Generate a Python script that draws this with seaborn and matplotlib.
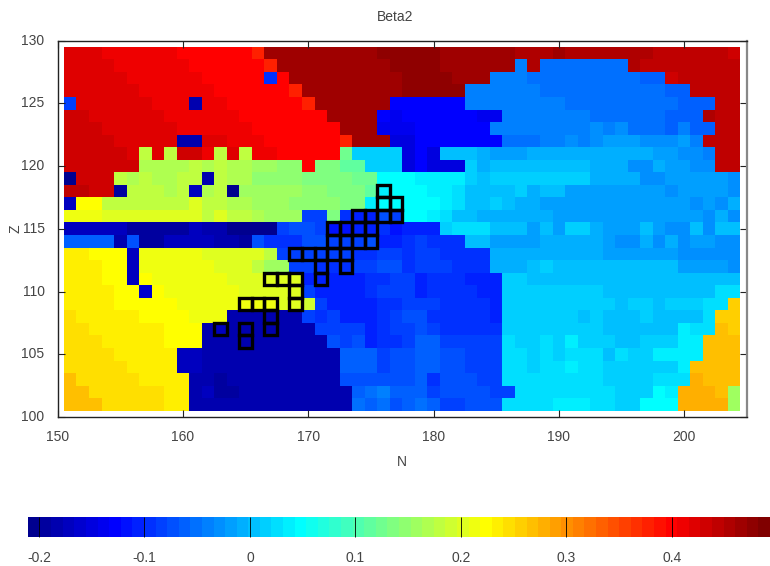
#!/usr/bin/env python

import numpy as np
import pandas as pd
import matplotlib
matplotlib.use('Agg')
import matplotlib.pyplot as plt
from matplotlib.colors import ListedColormap
from matplotlib.patches import Rectangle
import seaborn as sns

n_values = list(range(151, 205))
z_values = list(range(129, 100, -1))

z129 = [(57,3),(56,6),(55,6),(53,1),(61,9),(62,5),(61,6),(60,3),(61,1),(60,7),(59,6),(58,1)]
z128 = [(57,4),(56,6),(55,6),(53,1),(61,9),(62,4),(61,6),(15,1),(60,1),(14,7),(60,1),(59,8)]
z127 = [(57,5),(56,6),(55,5),(10,1),(55,1),(61,9),(62,4),(61,3),(15,3),(14,9),(13,2),(58,1),(59,5)]
z126 = [(57,6),(56,6),(55,6),(53,1),(61,8),(62,5),(15,6),(14,10),(13,2),(59,4)]
z125 = [(11,1),(57,6),(56,3),(2,1),(56,2),(55,6),(53,1),(61,6),(7,6),(15,8),(14,9),(13,3),(59,2)]
z124 = [(58,2),(57,6),(56,6),(55,7),(61,4),(7,1),(6,1),(7,6),(6,2),(15,7),(14,6),(13,3),(60,1),(59,2)]
z123 = [(58,3),(57,6),(56,6),(55,7),(61,3),(6,3),(7,6),(15,8),(16,1),(15,1),(16,1),(14,3),(13,1),(15,1),(13,2),(59,2)]
z122 = [(58,4),(57,5),(2,2),(57,2),(56,3),(55,6),(53,1),(61,3),(5,2),(7,7),(14,3),(15,2),(16,1),(15,1),(16,1),(17,3),(16,3),(17,1),(15,1),(59,3)]
z121 = [(58,5),(57,1),(35,1),(57,1),(35,1),(58,2),(56,1),(35,1),(57,1),(35,1),(56,2),(55,5),(30,1),(20,4),(5,1),(7,1),(5,1),(19,3),(18,1),(17,3),(18,10),(17,2),(16,2),(15,1),(59,2)]
z120 = [(58,6),(34,4),(35,1),(34,1),(35,1),(34,2),(33,2),(32,2),(55,1),(31,2),(29,2),(20,3),(5,1),(7,1),(5,3),(20,1),(18,1),(19,8),(18,3),(16,2),(18,1),(17,2),(16,2),(59,2)]
z119 = [(0,1),(58,3),(35,1),(34,1),(35,1),(34,2),(35,2),(2,1),(35,1),(34,2),(32,4),(31,4),(30,2),(23,3),(22,4),(20,1),(19,1),(20,8),(18,4),(16,2),(17,5),(16,1)]
z118 = [(59,2),(58,2),(1,1),(35,3),(34,1),(35,1),(3,1),(34,1),(35,1),(0,1),(33,5),(32,2),(31,3),(29,1),(22,1),(23,3),(22,2),(21,1),(19,4),(20,1),(18,1),(19,2),(17,8),(16,1),(17,4),(16,1)]
z117 = [(3,1),(39,2),(35,7),(37,1),(35,2),(34,2),(33,3),(32,4),(31,2),(22,1),(23,5),(22,1),(21,1),(19,2),(20,1),(19,1),(18,2),(17,12),(16,1),(17,1),(16,1),(18,1)]
z116 = [(38,3),(37,8),(35,1),(37,1),(35,2),(34,1),(33,3),(11,2),(31,1),(10,1),(9,2),(12,1),(11,1),(23,2),(22,1),(21,1),(19,2),(18,6),(17,12),(16,1),(18,1),(16,1)]
z115 = [(3,5),(1,5),(3,1),(2,2),(0,4),(11,1),(12,2),(11,1),(8,2),(9,2),(10,1),(8,1),(9,3),(20,1),(21,3),(19,3),(17,1),(19,1),(17,1),(20,2),(18,1),(17,3),(19,1),(17,1),(16,2),(19,1),(16,1),(19,2)]
z114 = [(13,4),(2,1),(12,1),(1,2),(3,4),(2,2),(1,1),(12,1),(10,3),(12,2),(11,3),(12,1),(9,2),(10,1),(11,1),(10,3),(19,2),(17,4),(18,5),(17,1),(16,2),(18,1),(16,1),(18,1),(16,1),(17,2),(16,2)]
z113 = [(40,2),(39,3),(3,1),(38,5),(37,5),(35,1),(11,6),(10,2),(11,2),(10,1),(11,2),(10,4),(18,9),(17,6),(16,5)]
z112 = [(40,3),(39,2),(3,1),(38,6),(37,3),(35,1),(33,2),(11,2),(10,3),(11,2),(12,2),(10,1),(11,3),(10,3),(18,3),(19,1),(20,1),(19,10),(17,4),(16,1)]
z111 = [(40,3),(39,2),(3,1),(39,1),(38,6),(37,6),(9,5),(10,2),(11,2),(9,1),(10,3),(9,3),(20,2),(19,17)]
z110 = [(40,4),(39,2),(4,1),(39,1),(38,6),(37,5),(11,1),(9,4),(10,1),(11,3),(9,1),(10,4),(9,2),(20,8),(19,9),(21,2)]
z109 = [(40,4),(39,5),(38,8),(37,2),(36,1),(11,1),(9,4),(10,2),(11,3),(10,4),(9,1),(20,9),(19,1),(20,2),(19,1),(20,3),(21,2),(42,1)]
z108 = [(41,1),(40,5),(39,4),(38,3),(2,6),(11,1),(10,1),(11,1),(9,3),(10,1),(11,1),(12,2),(10,5),(9,1),(20,6),(19,1),(20,1),(19,3),(20,1),(19,4),(21,1),(42,2)]
z107 = [(41,2),(40,6),(39,3),(2,1),(3,1),(2,7),(11,4),(9,1),(10,1),(11,2),(12,1),(11,1),(10,5),(20,8),(19,6),(22,1),(21,2),(43,1),(42,1)]
z106 = [(41,3),(40,5),(39,3),(2,10),(12,1),(11,1),(12,1),(9,1),(10,2),(11,1),(13,2),(11,5),(21,1),(20,2),(21,1),(20,1),(22,1),(20,3),(19,2),(20,3),(22,2),(43,3)]
z105 = [(41,4),(40,5),(3,2),(2,11),(13,3),(11,1),(12,2),(13,2),(12,2),(11,3),(21,2),(20,1),(21,1),(20,1),(21,3),(19,1),(21,1),(20,2),(22,4),(43,3)]
z104 = [(41,5),(40,4),(3,2),(2,11),(13,3),(11,1),(12,2),(13,2),(12,2),(11,3),(21,2),(20,1),(21,2),(22,1),(21,2),(20,6),(22,1),(43,4)]
z103 = [(43,1),(41,5),(40,4),(2,2),(1,1),(2,9),(12,6),(13,1),(10,1),(12,3),(11,2),(21,8),(20,4),(21,3),(44,1),(43,3)]
z102 = [(43,2),(41,6),(40,2),(2,1),(3,1),(1,2),(2,9),(13,1),(14,1),(15,1),(13,3),(11,1),(12,4),(11,2),(21,8),(20,3),(23,1),(22,1),(44,3),(43,1),(33,1)]
z101 = [(43,3),(41,5),(40,2),(2,13),(14,1),(13,1),(14,1),(12,1),(13,1),(14,1),(13,1),(11,2),(12,3),(21,4),(22,3),(21,2),(20,2),(23,3),(44,4),(33,1)]

rows = [z129, z128, z127, z126, z125, z124, z123, z122, z121, z120,
        z119, z118, z117, z116, z115, z114, z113, z112, z111, z110,
        z109, z108, z107, z106, z105, z104, z103, z102, z101]

# outlined cells
box_n = [176, 176, 177, 174, 175, 176, 177, 172, 173, 174, 175, 172, 173, 174, 175,
         169, 170, 171, 172, 173, 171, 173, 171, 167, 168, 169, 169,
         165, 166, 167, 169, 167, 163, 165, 167, 165]
box_z = [118, 117, 117, 116, 116, 116, 116, 115, 115, 115, 115, 114, 114, 114, 114,
         113, 113, 113, 113, 113, 112, 112, 111, 111, 111, 111, 110,
         109, 109, 109, 109, 108, 107, 107, 107, 106]

x_ticks = [150, 160, 170, 180, 190, 200]
y_ticks = [100, 105, 110, 115, 120, 125, 130]
cbar_ticks = [-0.2, -0.1, 0, 0.1, 0.2, 0.3, 0.4]
cbar_labels = ['-0.2', '-0.1', '0', '0.1', '0.2', '0.3', '0.4']

vmin = -0.2104
vmax = 0.493
n_steps = 64

## Build the table ##

step = (vmax - vmin) / n_steps
table = []
for row in rows:
    line = []
    for level, count in row:
        line += [vmin + (level + 0.5) * step] * count
    assert len(line) == len(n_values), (row, len(line))
    table.append(line)
df = pd.DataFrame(table, index=z_values, columns=n_values)

# 64 step jet
lev = np.arange(n_steps)
r = np.clip(np.minimum((lev - 23) / 16, (71 - lev) / 16), 0, 1)
g = np.clip(np.minimum((lev - 7) / 16, (55 - lev) / 16), 0, 1)
b = np.clip(np.minimum((lev + 9) / 16, (39 - lev) / 16), 0, 1)
jet64 = ListedColormap(np.column_stack([r, g, b]))

## Plot ##

plt.rcParams['font.family'] = ['Liberation Sans', 'DejaVu Sans']

fig = plt.figure(figsize=(7.7, 5.66), dpi=100)
ax = fig.add_axes([57.7 / 770, (566 - 417) / 566, 689 / 770, 376.5 / 566])
cax = fig.add_axes([28 / 770, (566 - 537) / 566, 742 / 770, 20 / 566])

sns.heatmap(df, ax=ax, cmap=jet64, vmin=vmin, vmax=vmax, cbar_ax=cax,
            cbar_kws={'orientation': 'horizontal'}, linewidths=0)

# heatmap cell i spans i..i+1, so N = 150.5 + x and Z = 129.5 - y
ax.set_xlim(-0.5, 54.5)
ax.set_ylim(29.5, -0.5)
ax.set_xticks([v - 150.5 for v in x_ticks])
ax.set_xticklabels([str(v) for v in x_ticks], rotation=0, fontsize=10)
ax.set_yticks([129.5 - v for v in y_ticks])
ax.set_yticklabels([str(v) for v in y_ticks], rotation=0, fontsize=10)
ax.tick_params(axis='both', which='major', direction='in', length=5, width=0.8,
               top=True, right=True, color='#222222', labelcolor='#444444')
ax.tick_params(axis='x', pad=9.3)
ax.tick_params(axis='y', pad=9.5)
ax.set_xlabel('N', fontsize=10, labelpad=8, color='#444444')
ax.set_ylabel('Z', fontsize=10, labelpad=-0.8, color='#444444')
ax.set_title('Beta2', fontsize=10, pad=14.2, x=0.4895, color='#444444')

for spine in ax.spines.values():
    spine.set_visible(True)
    spine.set_linewidth(1.0)
    spine.set_color('#222222')
ax.spines['right'].set_color('#888888')
ax.spines['right'].set_linewidth(1.6)

for n, z in zip(box_n, box_z):
    ax.add_patch(Rectangle((n - 151, 129 - z), 1, 1, fill=False, edgecolor='black', linewidth=2.4))

cbar = ax.collections[0].colorbar
cbar.set_ticks(cbar_ticks)
cbar.set_ticklabels(cbar_labels)
cbar.outline.set_visible(False)
cbar.ax.tick_params(direction='in', length=14.4, width=0.6, color='black',
                    labelsize=10, labelcolor='#444444', pad=10)

plt.savefig('out.png', dpi=100)
plt.close()
